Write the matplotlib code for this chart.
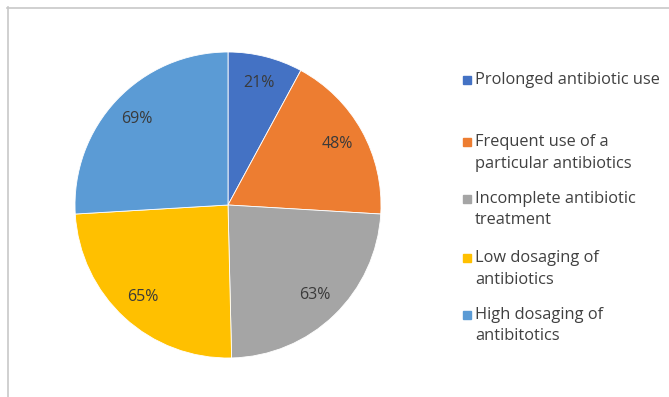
import matplotlib
matplotlib.use("Agg")
import matplotlib.pyplot as plt
from matplotlib.patches import Rectangle
from matplotlib.lines import Line2D

categories = ["Prolonged antibiotic use",
              "Frequent use of a\nparticular antibiotics",
              "Incomplete antibiotic\ntreatment",
              "Low dosaging of\nantibiotics",
              "High dosaging of\nantibitotics"]
values = [21, 48, 63, 65, 69]
colors = ["#4472C4", "#ED7D31", "#A5A5A5", "#FFC000", "#5B9BD5"]

W, H = 669, 397
fig = plt.figure(figsize=(W / 100, H / 100), dpi=100)
plt.rcParams['font.family'] = ['Open Sans', 'DejaVu Sans']

# outer chart border (top and left visible)
fig.add_artist(Line2D([7 / W, 1.0], [1 - 7.5 / H, 1 - 7.5 / H], color="#c8c8c8", lw=1.2, transform=fig.transFigure))
fig.add_artist(Line2D([7.5 / W, 7.5 / W], [0, 1 - 7 / H], color="#c8c8c8", lw=1.2, transform=fig.transFigure))

cx, cy, r = 228, 205, 153
ax = fig.add_axes([(cx - r) / W, (H - cy - r) / H, 2 * r / W, 2 * r / H])
wedges, texts = ax.pie(
    values, colors=colors, startangle=90, counterclock=False,
    labels=[f"{v}%" for v in values], labeldistance=0.82,
    wedgeprops=dict(edgecolor="white", linewidth=0.6),
    textprops=dict(fontsize=11.5, color="#3a3a3a"),
    radius=1.0)
for t in texts:
    t.set_ha("center")
    t.set_va("center")
ax.set_xlim(-1, 1)
ax.set_ylim(-1, 1)
ax.set_aspect("auto")
ax.axis("off")

# legend
ys = [80, 142, 199, 258, 315]
step = 21.5
for lab, col, y in zip(categories, colors, ys):
    fig.add_artist(Rectangle((463 / W, 1 - (y + 4) / H), 8 / W, 8 / H,
                             color=col, transform=fig.transFigure))
    for i, line in enumerate(lab.split("\n")):
        fig.text(475 / W, 1 - (y + i * step) / H, line, fontsize=11.8,
                 color="#404040", ha="left", va="center")

fig.savefig("out.png", dpi=100, facecolor="white")
